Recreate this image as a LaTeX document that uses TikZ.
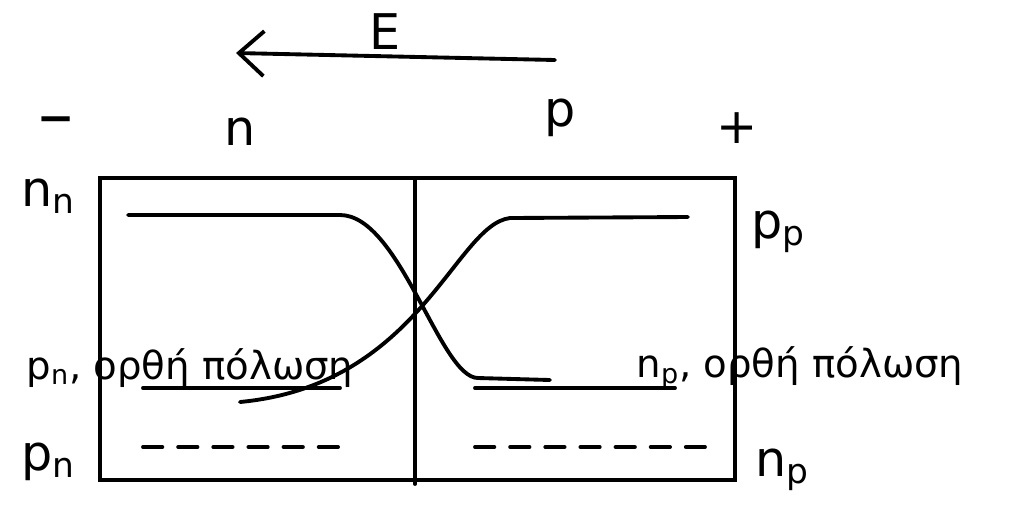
\documentclass[tikz,border=0pt]{standalone}
\usepackage{fontspec}
\setmainfont{DejaVu Sans}
\usetikzlibrary{arrows.meta,positioning,calc}

\begin{document}
\begin{tikzpicture}[x=0.02cm, y=-0.02cm, every node/.style={font=\fontsize{28}{32}\selectfont}, ink/.style={line width=2.2pt, line cap=round}, dashline/.style={ink, dash pattern=on 11pt off 9pt}, arrow/.style={ink, -{Straight Barb[length=5mm,width=9mm,line width=2.2pt]}}, note/.style={font=\fontsize{22}{26}\selectfont}]
\useasboundingbox (0,0) rectangle (1010,508);
% box corners
\coordinate (tl) at (100,178); \coordinate (tm) at (415,178); \coordinate (tr) at (735,178);
\coordinate (bl) at (100,480); \coordinate (bm) at (415,484); \coordinate (br) at (735,480);
\draw[ink] (tl) -- (tr) -- (br) -- (bl) -- cycle;
\draw[ink] (tm) -- (bm);
% field
\coordinate (Etail) at (555,60); \coordinate (Ehead) at (236,53);
\draw[arrow] (Etail) -- (Ehead);
\node (E) at (385,32) {E};
\node[font=\fontsize{40}{44}\selectfont] (minus) at (56,128) {–};
\node (nside) at (240,132) {n};
\node (pside) at (560,118) {p};
\node (plus) at (737,128) {+};
% carrier levels
\coordinate (nn0) at (128,215); \coordinate (nn1) at (340,215);
\coordinate (np0) at (478,378); \coordinate (np1) at (550,380);
\draw[ink] (nn0) -- (nn1) .. controls (400,215) and (440,378) .. (np0) -- (np1);
\coordinate (pp0) at (688,217); \coordinate (pp1) at (510,218); \coordinate (pn1) at (240,402);
\draw[ink] (pp0) -- (pp1) .. controls (455,225) and (420,385) .. (pn1);
\coordinate (pnl0) at (143,388); \coordinate (pnl1) at (340,388);
\coordinate (npl0) at (475,388); \coordinate (npl1) at (675,388);
\draw[ink] (pnl0) -- (pnl1);
\draw[ink] (npl0) -- (npl1);
\coordinate (pnd0) at (143,447); \coordinate (pnd1) at (345,447);
\coordinate (npd0) at (475,447); \coordinate (npd1) at (705,447);
\draw[dashline] (pnd0) -- (pnd1);
\draw[dashline] (npd0) -- (npd1);
% labels
\node (nn) at (48,196) {n\textsubscript{n}};
\node (pn) at (48,462) {p\textsubscript{n}};
\node (pp) at (778,232) {p\textsubscript{p}};
\node (np) at (782,470) {n\textsubscript{p}};
\node[note] (pnfw) at (190,368) {p\textsubscript{n}, ορθή πόλωση};
\node[note] (npfw) at (800,368) {n\textsubscript{p}, ορθή πόλωση};
\end{tikzpicture}
\end{document}
